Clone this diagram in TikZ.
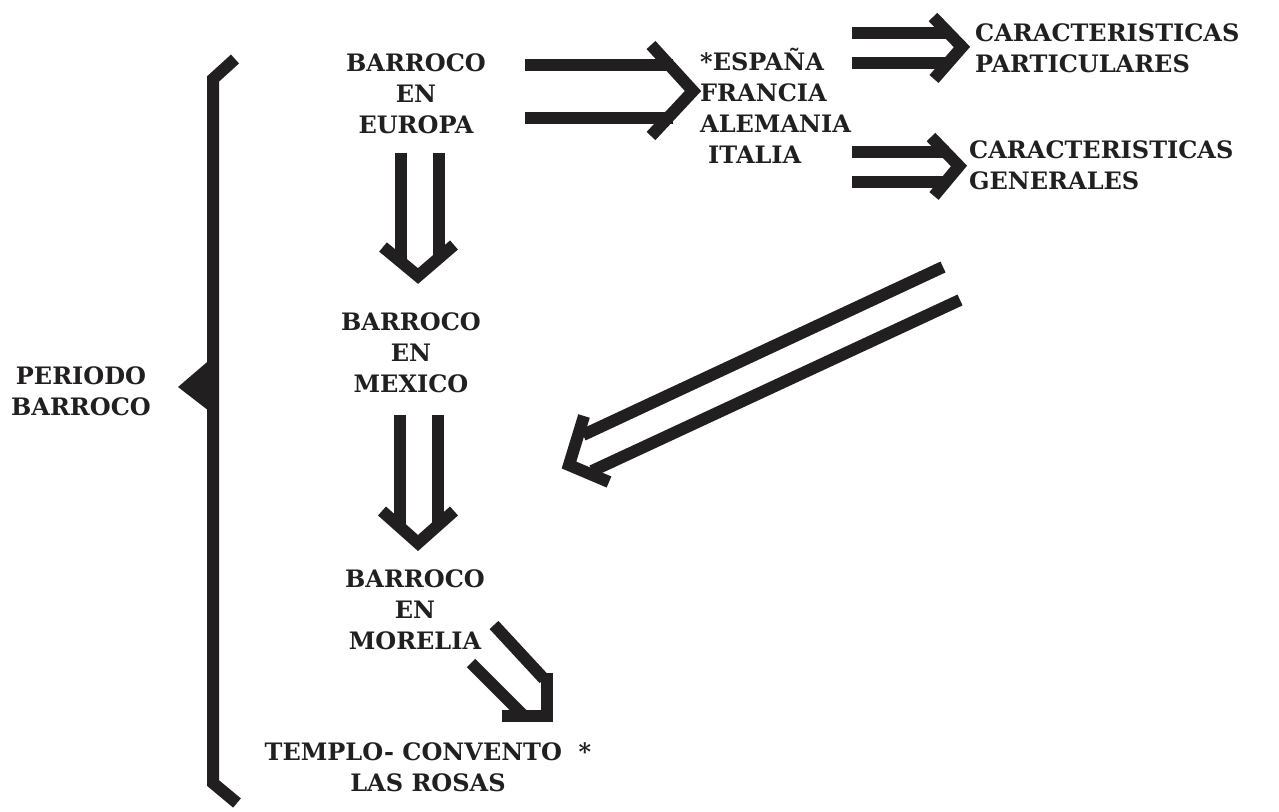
\documentclass[tikz,border=0pt]{standalone}
\usepackage{fontspec}
\setmainfont{DejaVu Serif}
\definecolor{ink}{rgb}{0.13,0.12,0.12}
\begin{document}
\begin{tikzpicture}[x=1pt,y=-1pt,
  lbl/.style={font=\fontsize{24}{31}\selectfont\bfseries, text=ink, inner sep=0pt},
  bar/.style={line width=12pt, line cap=butt, draw=ink},
  head/.style={line width=12pt, line join=miter, line cap=butt, draw=ink}]
\useasboundingbox (0,0) rectangle (1279,811);
\fill[white] (0,0) rectangle (1279,811);

% labels
\node[lbl, align=center] (per) at (81,391) {PERIODO\\BARROCO};
\node[lbl, align=center] (eur) at (416,94) {BARROCO\\EN\\EUROPA};
\node[lbl, align=center] (mex) at (411,353) {BARROCO\\EN\\MEXICO};
\node[lbl, align=center] (mor) at (415,610) {BARROCO\\EN\\MORELIA};
\node[lbl, align=left, anchor=west] (pai) at (700,106) {*ESPAÑA\\FRANCIA\\ALEMANIA\\\hspace*{8pt}ITALIA};
\node[lbl, align=left, anchor=west] (par) at (975,48) {CARACTERISTICAS\\PARTICULARES};
\node[lbl, align=left, anchor=west] (gen) at (969,165) {CARACTERISTICAS\\GENERALES};
\node[lbl, align=center] (tem) at (428,767) {TEMPLO- CONVENTO~~*\\LAS ROSAS};

% brace
\coordinate (btop) at (235,59);
\coordinate (bbot) at (237,803);
\coordinate (btip) at (178,387);
\draw[head] (btop) -- (213,79) -- (213,783) -- (bbot);
\fill[ink] (btip) -- (213,357) -- (213,414) -- cycle;

% Europa -> paises
\draw[bar] (525,65) -- (673,65) (525,118) -- (673,118);
\draw[head] (651,45) -- (693,91) -- (651,136);

% -> caracteristicas particulares
\draw[bar] (852,33) -- (951,33) (852,63) -- (951,63);
\draw[head] (933,17) -- (962,47) -- (934,79);

% -> caracteristicas generales
\draw[bar] (852,152) -- (949,152) (852,182) -- (949,182);
\draw[head] (931,137) -- (959,166) -- (934,196);

% Europa -> Mexico
\draw[bar] (401,153) -- (401,263) (439,153) -- (439,259);
\draw[head] (383,247) -- (418,276) -- (454,245);

% Mexico -> Morelia
\draw[bar] (400,415) -- (400,528) (438,415) -- (438,526);
\draw[head] (382,511) -- (418,543) -- (454,511);

% Morelia -> Templo
\draw[bar] (494,625) -- (544,679) (471,663) -- (522,714);
\draw[head] (547,673) -- (547,716) -- (502,716);

% caracteristicas generales -> Mexico (big diagonal)
\draw[bar] (943,267) -- (583,435) (960,300) -- (592,471);
\draw[head] (584,416) -- (569,465) -- (609,482);
\end{tikzpicture}
\end{document}
